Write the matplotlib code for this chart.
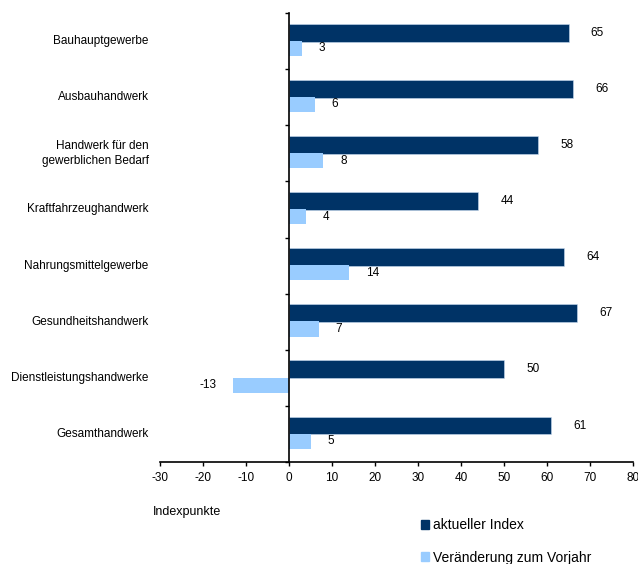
import matplotlib.pyplot as plt
import matplotlib.transforms as mtransforms
from matplotlib.patches import Patch

plt.rcParams['font.family'] = ['Liberation Sans', 'DejaVu Sans']

# Data
categories = [
    "Bauhauptgewerbe",
    "Ausbauhandwerk",
    "Handwerk für den\ngewerblichen Bedarf",
    "Kraftfahrzeughandwerk",
    "Nahrungsmittelgewerbe",
    "Gesundheitshandwerk",
    "Dienstleistungshandwerke",
    "Gesamthandwerk",
]
index_now = [65, 66, 58, 44, 64, 67, 50, 61]
change_prev_year = [3, 6, 8, 4, 14, 7, -13, 5]
xticks = [-30, -20, -10, 0, 10, 20, 30, 40, 50, 60, 70, 80]

dark = "#003366"
light = "#99CCFF"

fig = plt.figure(figsize=(6.38, 5.64), dpi=100)
ax = fig.add_axes([160 / 638, 1 - 462 / 564, 473 / 638, 449 / 564])

pos = list(range(len(categories)))
ax.barh([p - 0.15 for p in pos], index_now, height=0.32,
        color=dark, edgecolor="#c8dcf0", linewidth=0.4)
ax.barh([p + 0.13 for p in pos], change_prev_year, height=0.27,
        color=light, linewidth=0)

# value labels
for p, v in zip(pos, index_now):
    ax.annotate(str(v), (v, p - 0.15), xytext=(16, 0), textcoords="offset points",
                ha="left", va="center", fontsize=8.5)
for p, v in zip(pos, change_prev_year):
    if v >= 0:
        ax.annotate(str(v), (v, p + 0.13), xytext=(12, 0), textcoords="offset points",
                    ha="left", va="center", fontsize=8.5)
    else:
        ax.annotate(str(v), (v, p + 0.13), xytext=(-12, 0), textcoords="offset points",
                    ha="right", va="center", fontsize=8.5)

ax.set_xlim(-30, 80)
ax.set_ylim(len(categories) - 0.5, -0.5)
ax.set_xticks(xticks)
ax.set_xticklabels([str(t) for t in xticks], fontsize=8.5)

# y axis drawn at x = 0, ticks between groups
ax.spines["left"].set_position(("data", 0))
ax.spines["right"].set_visible(False)
ax.spines["top"].set_visible(False)
ax.spines["left"].set_linewidth(1.2)
ax.spines["bottom"].set_linewidth(1.2)
ax.set_yticks([p - 0.5 for p in pos] + [len(categories) - 0.5])
ax.set_yticklabels([])
ax.tick_params(axis="y", direction="out", length=3, width=1)
ax.tick_params(axis="x", direction="out", length=3, width=1, pad=4)

trans = mtransforms.blended_transform_factory(ax.transAxes, ax.transData)
for p, name in zip(pos, categories):
    ax.text(-0.024, p, name, transform=trans, ha="right", va="center",
            fontsize=8.5, linespacing=1.3)

fig.text(153 / 638, 1 - 512 / 564, "Indexpunkte", ha="left", va="center", fontsize=9)

handles = [Patch(facecolor=dark, edgecolor=dark, label="aktueller Index"),
           Patch(facecolor=light, edgecolor=light, label="Veränderung zum Vorjahr")]
fig.legend(handles=handles, loc="upper left", bbox_to_anchor=(421 / 638, 1 - 518 / 564),
           frameon=False, fontsize=10, handlelength=0.6, handleheight=0.6,
           handletextpad=0.25, labelspacing=1.35, borderpad=0, borderaxespad=0)

fig.savefig("out.png", dpi=100)
